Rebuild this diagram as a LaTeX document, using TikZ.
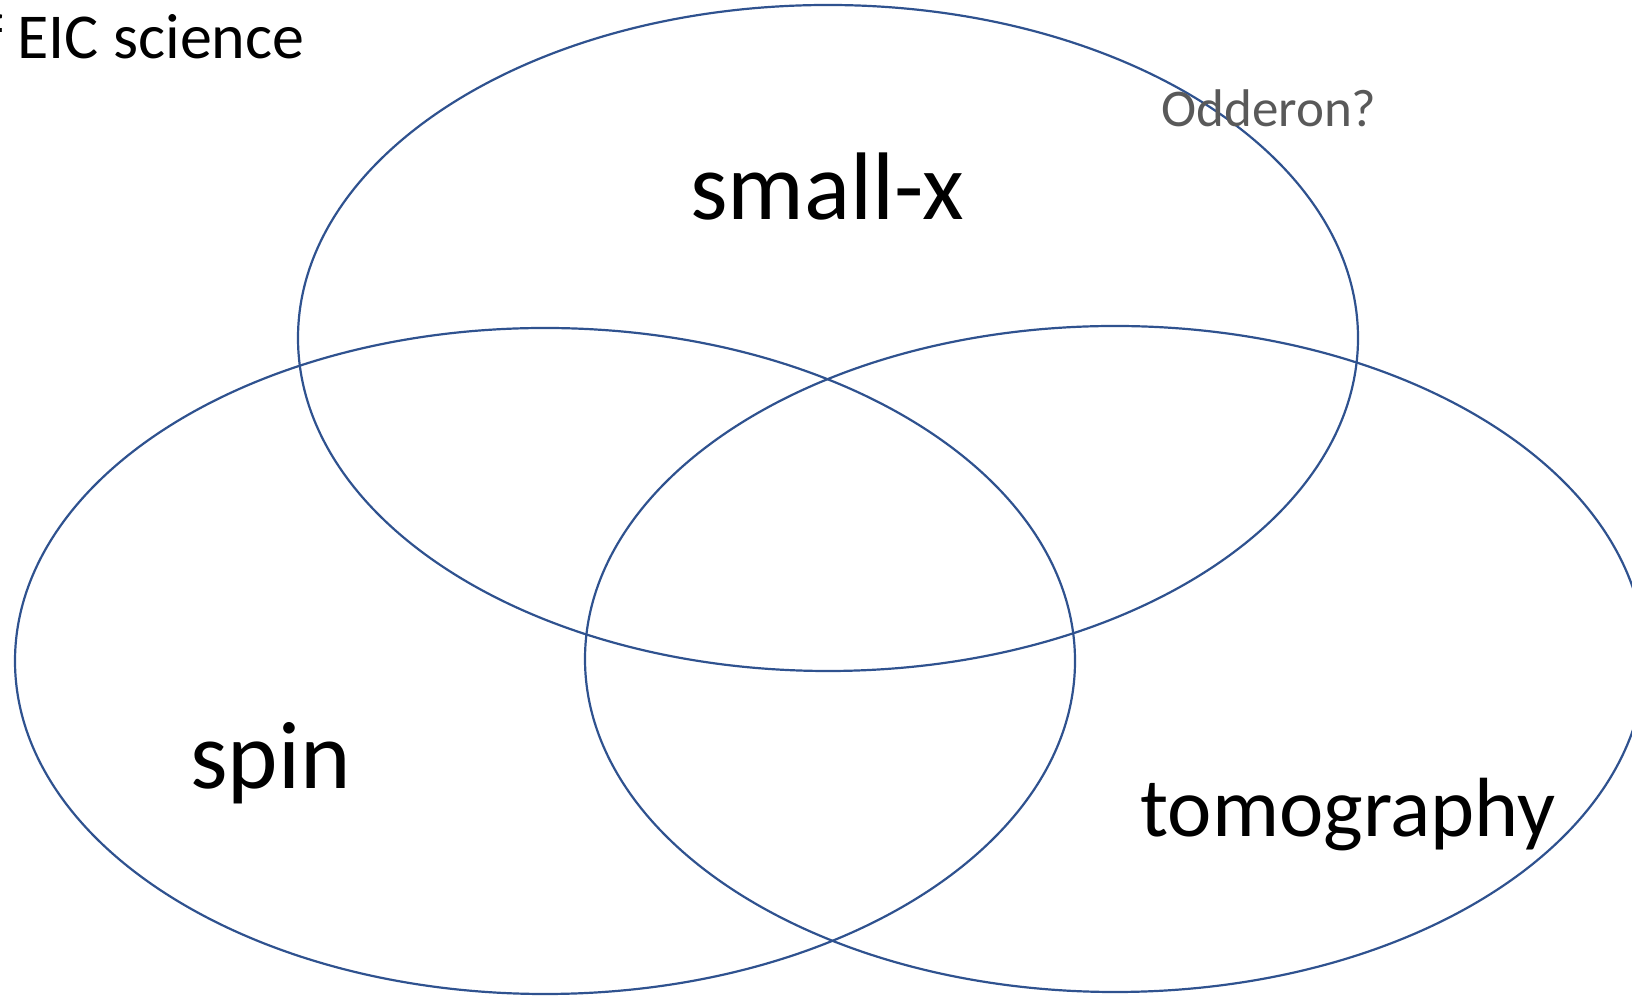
\documentclass[tikz,border=0pt]{standalone}
\usepackage{fontspec}
\setmainfont{Carlito}
\definecolor{ellblue}{RGB}{47,82,143}
\definecolor{oddgray}{RGB}{89,89,89}
\begin{document}
\begin{tikzpicture}[x=1pt,y=1pt,
  venn/.style={draw=ellblue, line width=1.1pt},
  lbl/.style={inner sep=0pt, anchor=base west}]
\useasboundingbox (0,0) rectangle (816,500);
\draw[venn] (414,331) ellipse [x radius=265, y radius=166.5];
\draw[venn] (272.5,169.5) ellipse [x radius=265, y radius=166.5];
\draw[venn] (557.5,170.5) ellipse [x radius=265, y radius=166.5];
\node[lbl, font=\fontsize{32}{34}\selectfont] (title) at (-8.5,470.5) {f EIC science};
\node[lbl, font=\fontsize{48}{50}\selectfont] (smallx) at (345,390) {small-x};
\node[lbl, font=\fontsize{48}{50}\selectfont] (spin) at (95,105.5) {spin};
\node[lbl, font=\fontsize{42}{44}\selectfont] (tomo) at (570,81.5) {tomography};
\node[lbl, text=oddgray, font=\fontsize{26.5}{28}\selectfont] (odd) at (580.5,436.5) {Odderon?};
\end{tikzpicture}
\end{document}
